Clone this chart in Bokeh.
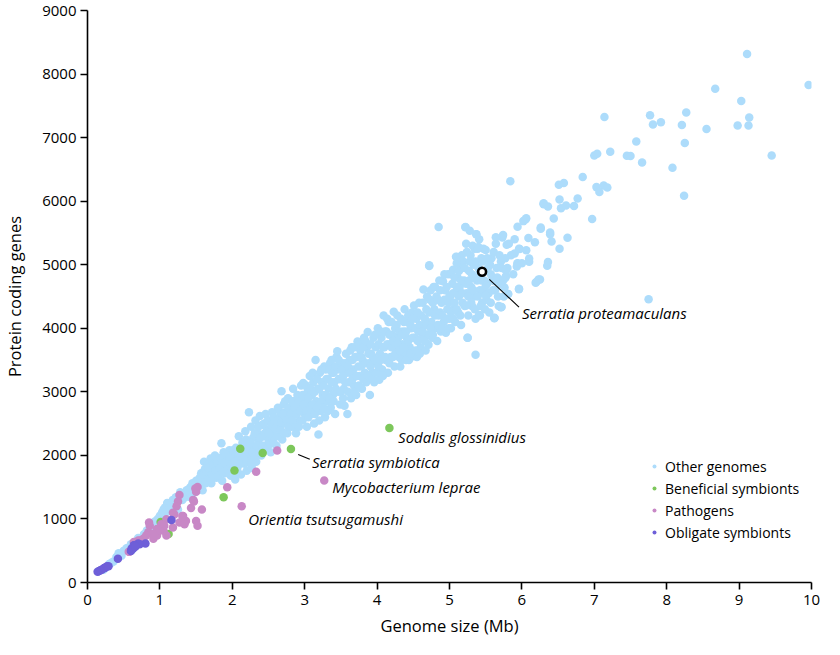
from bokeh.plotting import figure
from bokeh.models import (ColumnDataSource, Range1d, FixedTicker, Legend, LegendItem)
from bokeh.core.properties import value
from bokeh.embed import file_html
from bokeh.resources import INLINE

# ---------------- data ----------------
# Other genomes: dense band (genome size Mb, protein coding genes)
other_band = [
    (0.22,200),(0.26,240),(0.30,290),(0.33,310),(0.36,330),(0.40,400),(0.43,460),(0.47,420),(0.50,500),(0.54,540),(0.57,550),(0.60,600),(0.62,520),
    (0.66,640),(0.70,700),(0.74,690),(0.78,760),(0.82,820),(0.86,800),(0.90,880),(0.93,960),(0.97,1000),(1.00,1050),
    (1.03,1100),(1.05,1150),(1.07,1180),(1.10,1250),(1.12,1130),(1.15,1200),(1.18,1300),(1.22,1340),(1.25,1150),(1.28,1420),(1.31,1300),(1.34,1400),(1.37,1450),(1.40,1350),(1.42,1500),(1.45,1560),(1.48,1420),(1.50,1600),
    (1.52,1520),(1.55,1650),(1.57,1720),(1.59,1450),(1.61,1900),(1.62,1780),(1.64,1620),(1.66,1850),(1.68,1700),(1.70,1950),(1.71,1560),(1.73,1800),(1.75,1900),(1.76,2000),(1.78,1650),(1.80,1760),(1.82,1960),(1.84,1870),(1.85,2190),(1.86,1600),(1.88,2050),(1.90,1720),(1.92,1950),(1.94,1820),(1.96,2080),(1.98,1680),(2.00,1880),
    (2.02,2000),(2.04,1620),(2.05,2120),(2.07,1800),(2.09,2300),(2.10,1950),(2.12,1700),(2.14,2200),(2.15,2050),(2.17,1870),(2.18,2380),(2.20,1760),(2.21,2150),(2.23,2680),(2.24,1980),(2.26,2450),(2.27,1800),(2.29,2280),(2.30,2100),(2.32,2550),(2.33,1900),(2.35,2350),(2.36,2200),(2.38,2620),(2.40,2000),(2.41,2480),(2.43,2300),(2.45,2150),(2.46,2650),(2.48,2400),(2.50,2250),
    (2.52,2550),(2.53,2050),(2.55,2680),(2.56,2400),(2.58,2300),(2.60,2580),(2.61,2150),(2.63,2750),(2.64,2450),(2.66,2600),(2.68,3010),(2.69,2250),(2.71,2800),(2.72,2500),(2.74,2680),(2.76,2350),(2.77,2900),(2.79,2600),(2.80,2750),(2.82,2450),(2.84,3050),(2.85,2850),(2.87,2650),(2.88,2350),(2.90,2950),(2.91,2750),(2.93,2550),(2.95,3100),(2.96,2850),(2.98,3140),(3.00,2650),
    (3.01,2950),(3.03,2450),(3.04,3050),(3.06,2800),(3.07,3250),(3.09,2650),(3.10,2950),(3.12,3150),(3.13,2500),(3.15,3500),(3.16,2850),(3.18,3050),(3.19,2330),(3.21,3300),(3.22,2700),(3.24,3150),(3.25,2950),(3.27,3400),(3.28,2600),(3.30,3200),(3.31,2850),(3.33,3050),(3.35,3450),(3.36,2750),(3.38,3300),(3.39,2950),(3.41,3150),(3.42,2650),(3.44,3550),(3.45,3640),(3.46,3000),(3.48,3350),(3.49,2800),(3.50,3200),
    (3.52,3450),(3.54,3050),(3.55,2780),(3.57,3600),(3.58,3300),(3.59,2650),(3.61,3150),(3.62,3500),(3.64,2900),(3.65,3700),(3.67,3350),(3.68,3100),(3.70,3550),(3.71,2950),(3.73,3790),(3.74,3400),(3.76,3250),(3.77,3650),(3.79,3050),(3.80,3500),(3.82,3850),(3.83,3300),(3.85,3150),(3.86,3700),(3.87,3940),(3.89,3450),(3.90,2950),(3.92,3600),(3.93,3300),(3.95,3850),(3.96,3150),(3.98,3700),(4.00,3450),
    (4.01,4000),(4.03,3190),(4.04,3600),(4.06,3850),(4.07,3350),(4.09,4200),(4.10,3700),(4.12,3500),(4.13,3950),(4.15,3300),(4.16,4100),(4.18,3750),(4.19,3550),(4.21,3900),(4.23,4260),(4.24,3400),(4.26,3650),(4.27,4050),(4.29,3850),(4.30,3550),(4.32,3400),(4.33,4150),(4.35,3750),(4.36,3950),(4.38,4300),(4.39,3600),(4.41,3850),(4.42,4100),(4.44,3500),(4.45,3700),(4.47,4000),(4.48,4250),(4.50,3560),(4.51,4360),(4.52,3850),
    (4.54,4150),(4.55,3550),(4.57,3950),(4.58,4400),(4.60,3700),(4.61,4200),(4.62,3850),(4.64,4610),(4.65,4050),(4.67,3650),(4.68,4300),(4.70,3900),(4.71,3740),(4.72,4980),(4.73,4450),(4.75,4100),(4.76,3850),(4.78,4650),(4.79,4300),(4.80,4000),(4.82,4500),(4.83,3800),(4.85,4200),(4.86,4750),(4.88,3950),(4.89,4400),(4.91,4740),(4.92,4100),(4.94,4600),(4.95,3930),(4.97,4300),(4.98,4850),(5.00,4150),
    (5.01,4500),(5.02,4000),(5.04,4700),(5.05,4920),(5.06,4300),(5.08,4100),(5.09,4550),(5.10,5120),(5.11,4800),(5.12,4250),(5.14,4650),(5.15,4950),(5.16,4050),(5.18,4400),(5.19,5050),(5.20,4750),(5.22,5590),(5.23,5330),(5.24,4550),(5.25,3850),(5.26,4200),(5.27,4900),(5.29,5150),(5.30,4650),(5.31,4350),(5.33,5000),(5.34,4500),(5.35,5250),(5.36,4150),(5.37,5480),(5.38,4750),(5.40,4950),(5.41,4210),(5.41,5400),(5.42,4600),(5.44,5100),(5.45,4400),(5.46,4560),(5.47,5250),(5.48,4750),(5.50,5230),
    (5.51,4450),(5.53,4950),(5.55,4250),(5.57,4850),(5.58,5100),(5.60,4600),(5.62,4740),(5.62,4160),(5.64,5330),(5.65,4950),(5.67,4500),(5.69,5150),(5.71,4330),(5.71,5050),(5.73,5430),(5.74,4750),(5.76,4640),(5.78,4820),(5.80,4950),(5.81,4540),(5.82,5330),(5.85,5150),(5.88,4850),(5.90,5400),(5.94,5020),(5.96,5250),(5.96,4615),
]
# Other genomes: additional points packed inside the band
other_fill = [
    (1.02,980),(1.06,1060),(1.09,1120),(1.13,1180),(1.16,1250),(1.20,1230),(1.23,1290),(1.27,1330),(1.30,1380),(1.33,1330),(1.36,1380),(1.39,1460),(1.41,1420),(1.44,1480),(1.47,1520),(1.49,1550),(1.51,1450),(1.53,1610),(1.56,1560),(1.58,1640),(1.60,1700),(1.63,1560),(1.65,1740),(1.67,1800),(1.69,1640),(1.72,1700),(1.74,1860),(1.77,1760),(1.79,1900),(1.81,1680),(1.83,1800),(1.85,1950),(1.87,1730),(1.89,1880),(1.91,2010),(1.93,1780),(1.95,1900),(1.97,1980),(1.99,1760),
    (2.01,2080),(2.03,1900),(2.06,1730),(2.08,2040),(2.11,1870),(2.13,2100),(2.16,1960),(2.19,2250),(2.20,1900),(2.22,2060),(2.25,2200),(2.26,1880),(2.28,2050),(2.31,2350),(2.31,1980),(2.34,2150),(2.36,2450),(2.37,2050),(2.39,2280),(2.42,2150),(2.44,2500),(2.45,2350),(2.47,2100),(2.49,2550),(2.51,2350),(2.52,2180),(2.54,2480),(2.57,2600),(2.57,2200),(2.59,2420),(2.62,2550),(2.62,2300),(2.65,2700),(2.67,2400),(2.68,2520),(2.70,2650),(2.72,2350),(2.73,2850),(2.75,2550),(2.78,2450),(2.78,2750),(2.81,2650),(2.83,2850),(2.83,2550),(2.86,2750),(2.87,2450),(2.89,2650),(2.92,2850),(2.92,2450),(2.94,2700),(2.97,2950),(2.97,2550),(2.99,2800),
    (3.02,3100),(3.02,2700),(3.05,2900),(3.05,2600),(3.08,3050),(3.08,2750),(3.11,3300),(3.11,2800),(3.14,3000),(3.14,2650),(3.17,3200),(3.17,2750),(3.20,3050),(3.20,2550),(3.23,3350),(3.23,2850),(3.26,3100),(3.26,2750),(3.29,3350),(3.29,2950),(3.32,3200),(3.32,2700),(3.34,3350),(3.34,2900),(3.37,3150),(3.37,3500),(3.40,3300),(3.40,2850),(3.43,3400),(3.43,3050),(3.47,3200),(3.47,3500),(3.50,3000),(3.51,3350),(3.53,3250),(3.53,2900),(3.56,3450),(3.56,3150),(3.60,3400),(3.60,3000),(3.63,3300),(3.63,3650),(3.66,3200),(3.66,3500),(3.69,3000),(3.69,3700),(3.72,3250),(3.72,3550),(3.75,3100),(3.75,3750),(3.78,3400),(3.78,3550),(3.81,3200),(3.81,3700),(3.84,3450),(3.84,3800),(3.88,3250),(3.88,3600),(3.91,3750),(3.91,3400),(3.94,3550),(3.94,3200),(3.97,3900),(3.97,3500),(3.99,3300),
    (4.02,3750),(4.02,3400),(4.05,3950),(4.05,3500),(4.08,3700),(4.08,3250),(4.11,3950),(4.11,3550),(4.14,3750),(4.14,4150),(4.17,3450),(4.17,3900),(4.20,3700),(4.20,4100),(4.22,3550),(4.22,3800),(4.25,4000),(4.25,3600),(4.28,3750),(4.28,4200),(4.31,3950),(4.31,3650),(4.34,3500),(4.34,3900),(4.37,4100),(4.37,3700),(4.40,3950),(4.40,3500),(4.43,4200),(4.43,3800),(4.46,4050),(4.46,3600),(4.49,3850),(4.49,4150),(4.53,4000),(4.53,3650),(4.56,4250),(4.56,3800),(4.59,4050),(4.59,3600),(4.63,4400),(4.63,3950),(4.66,4150),(4.66,3800),(4.69,4500),(4.69,4050),(4.72,3900),(4.72,4250),(4.74,4600),(4.74,4000),(4.77,4400),(4.77,3900),(4.80,4200),(4.80,4650),(4.84,4050),(4.84,4450),(4.87,4250),(4.87,4600),(4.90,4000),(4.90,4200),(4.93,4450),(4.93,4850),(4.96,4150),(4.96,4650),(4.99,4400),(4.99,4000),
    (5.02,4250),(5.02,4850),(5.05,4550),(5.05,4150),(5.07,4400),(5.07,4800),(5.10,4650),(5.10,4300),(5.13,4500),(5.13,4900),(5.15,4200),(5.16,4750),(5.17,5150),(5.18,4550),(5.21,4350),(5.21,4950),(5.23,4700),(5.24,5200),(5.26,4500),(5.27,4750),(5.28,5050),(5.30,4400),(5.31,4850),(5.32,5300),(5.33,4600),(5.35,4300),(5.36,5050),(5.37,4800),(5.39,4500),(5.39,5250),(5.42,4900),(5.43,4350),(5.44,4750),(5.46,5050),(5.47,4600),(5.49,4900),(5.49,4300),(5.52,4700),(5.52,5100),(5.54,4550),(5.56,5000),(5.57,4400),(5.59,4800),(5.61,5200),(5.63,4600),(5.66,4800),(5.68,4350),(5.70,4700),(5.72,4950),(5.75,4500),(5.77,5100),
]
# Other genomes: scattered points at the edge and the large-genome tail
other_sparse = [
    (9.11,8317),(9.96,7828),(8.67,7767),(9.03,7577),(9.14,7317),(9.13,7190),(8.98,7190),(8.55,7134),(8.27,7394),(8.21,7200),
    (8.25,6915),(8.24,6084),(8.08,6527),(9.45,6720),(7.77,7353),(7.81,7205),(7.92,7240),(7.58,6940),(7.66,6608),(7.45,6716),
    (7.50,6711),(7.22,6777),(7.14,7323),(7.00,6720),(7.04,6746),(6.84,6379),(6.58,6287),(6.51,6257),(7.03,6221),(7.13,6246),
    (7.18,6216),(7.07,6145),(5.84,6313),(7.75,4456),(6.97,5721),(6.77,6043),(6.72,5925),(6.52,6027),(6.54,5890),(6.61,5931),
    (6.30,5951),(6.36,5915),(6.44,5727),(6.63,5426),(6.52,5252),(6.41,5365),(6.39,5481),(6.26,5564),(6.06,5732),(6.02,5686),
    (5.94,5599),(6.09,5420),(6.18,5354),(6.36,5044),(6.35,4982),(6.25,4768),(6.20,4727),(5.96,4620),(5.72,4334),(5.62,4166),
    (5.42,4202),(4.85,5594),(4.72,4992),(5.22,5594),(5.74,5466),(5.64,5431),(5.79,5313),(6.05,5711),(6.30,5966),(6.26,5584),
    (6.39,5507),(6.10,5099),(5.94,5022),(6.23,4768),(6.19,4716),(5.81,4539),(5.71,4334),(5.62,4156),(5.41,4207),(5.25,3850),
    (5.36,3584),(5.90,5176),(5.97,5247),(6.06,5227),(6.10,5048),(6.00,5022),(5.93,4972),(5.78,4910),(5.77,4793),(5.40,5278),
    (5.37,5481),(5.28,5533),(5.09,5125),(5.10,5022),(5.50,4666),(5.50,4514),(5.23,4360),(5.00,4513),
]
beneficial = [(4.17,2432),(2.81,2100),(2.11,2106),(2.42,2039),(2.03,1764),(1.88,1342),(1.12,765),(1.01,950)]
pathogens = [
    (2.13,1198),(1.93,1500),(2.33,1744),(2.62,2076),(3.27,1606),
    (1.52,1504),(1.50,1427),(1.46,1300),(1.43,1173),(1.58,1147),(1.50,968),(1.52,892),(1.27,1377),(1.25,1274),(1.23,1198),
    (1.18,1096),(1.32,1045),(1.36,968),(1.27,944),(1.09,994),(1.02,918),(0.96,841),(0.86,892),(0.84,791),(0.91,688),
    (0.77,688),(0.70,662),(0.64,638),(0.57,485),(1.09,739),(1.05,815),(1.18,867),(1.34,918),(0.96,739),(0.85,944),
    (1.49,1479),(1.47,1274),(1.20,1071),(1.06,892),(0.99,815),(0.90,765),(0.81,739),(0.72,662),(0.58,485),(1.31,1045),
]
obligate = [
    (1.16,984),(0.42,372),(0.80,612),(0.72,600),(0.70,612),(0.65,586),(0.64,586),(0.61,535),(0.63,535),(0.60,494),
    (0.66,561),(0.14,168),(0.16,180),(0.18,194),(0.20,205),(0.23,229),(0.24,230),(0.27,255),(0.29,256),
]
highlight = [(5.45, 4890)]  # Serratia proteamaculans

label_names = ["Serratia proteamaculans", "Sodalis glossinidius", "Serratia symbiotica",
               "Mycobacterium leprae", "Orientia tsutsugamushi"]
label_tx = [6.00, 4.29, 3.10, 3.38, 2.22]
label_ty = [4237, 2295, 1902, 1504, 994]
leader_x0 = [5.55, 2.91]
leader_y0 = [4768, 2015]
leader_x1 = [5.96, 3.07]
leader_y1 = [4334, 1938]

x_ticks = [0, 1, 2, 3, 4, 5, 6, 7, 8, 9, 10]
y_ticks = [0, 1000, 2000, 3000, 4000, 5000, 6000, 7000, 8000, 9000]

series_names = ["Other genomes", "Beneficial symbionts", "Pathogens", "Obligate symbionts"]
C_OTHER = "#ADDCFB"
C_BEN = "#7DC75B"
C_PATH = "#C888C6"
C_OBL = "#6E5FD8"
FONT = "Open Sans"

# ---------------- figure ----------------
p = figure(width=824, height=639, output_backend="svg", toolbar_location=None,
           x_range=Range1d(0, 10), y_range=Range1d(0, 9000),
           min_border_left=79, min_border_right=13, min_border_top=10, min_border_bottom=52)
p.outline_line_color = None
p.xgrid.visible = False
p.ygrid.visible = False
p.background_fill_color = "white"

for ax in (p.xaxis[0], p.yaxis[0]):
    ax.axis_line_color = "black"
    ax.axis_line_width = 1.6
    ax.major_tick_line_color = "black"
    ax.major_tick_line_width = 1.6
    ax.major_tick_in = 0
    ax.major_tick_out = 7
    ax.minor_tick_line_color = None
    ax.major_label_text_font = FONT
    ax.major_label_text_font_size = "15px"
    ax.major_label_text_color = "black"
    ax.axis_label_text_font = FONT
    ax.axis_label_text_font_size = "16.5px"
    ax.axis_label_text_font_style = "normal"
    ax.axis_label_text_color = "black"

p.xaxis.ticker = FixedTicker(ticks=x_ticks)
p.yaxis.ticker = FixedTicker(ticks=y_ticks)
p.xaxis.axis_label = "Genome size (Mb)"
p.yaxis.axis_label = "Protein coding genes"
p.xaxis.major_label_standoff = 5
p.xaxis.axis_label_standoff = 6
p.yaxis.major_label_standoff = 4
p.yaxis.axis_label_standoff = 13

def src(pairs):
    return ColumnDataSource(dict(x=[a for a, b in pairs], y=[b for a, b in pairs]))

series_data = [other_band + other_fill + other_sparse, beneficial, pathogens, obligate]
series_colors = [C_OTHER, C_BEN, C_PATH, C_OBL]

# legend-only renderers (small markers hidden under the first point of each series)
leg_items = []
for name, col, data in zip(series_names, series_colors, series_data):
    r = p.scatter("x", "y", source=src(data[:1]), size=6.5, fill_color=col, line_color=None)
    leg_items.append(LegendItem(label=name, renderers=[r]))

PT = 8.5
for col, data in zip(series_colors, series_data):
    p.scatter("x", "y", source=src(data), size=PT, fill_color=col, line_color=None)
p.scatter("x", "y", source=src(highlight), size=8, fill_color="white", line_color="black", line_width=2.6)

# leader lines
p.segment(x0=leader_x0, y0=leader_y0, x1=leader_x1, y1=leader_y1, line_color="black", line_width=1.1)

# annotation labels
p.text(x=label_tx, y=label_ty, text=label_names, text_font=value(FONT), text_font_style="italic",
       text_font_size="15px", text_baseline="middle", text_align="left", text_color="black")

legend = Legend(items=leg_items, location=(562, 40), border_line_color=None,
                background_fill_alpha=0, padding=0, margin=0, spacing=2,
                glyph_width=10, glyph_height=20, label_height=20, label_standoff=6,
                label_text_font=FONT, label_text_font_size="14px", label_text_color="black")
p.add_layout(legend)

open("out.html", "w").write(file_html(p, INLINE))
